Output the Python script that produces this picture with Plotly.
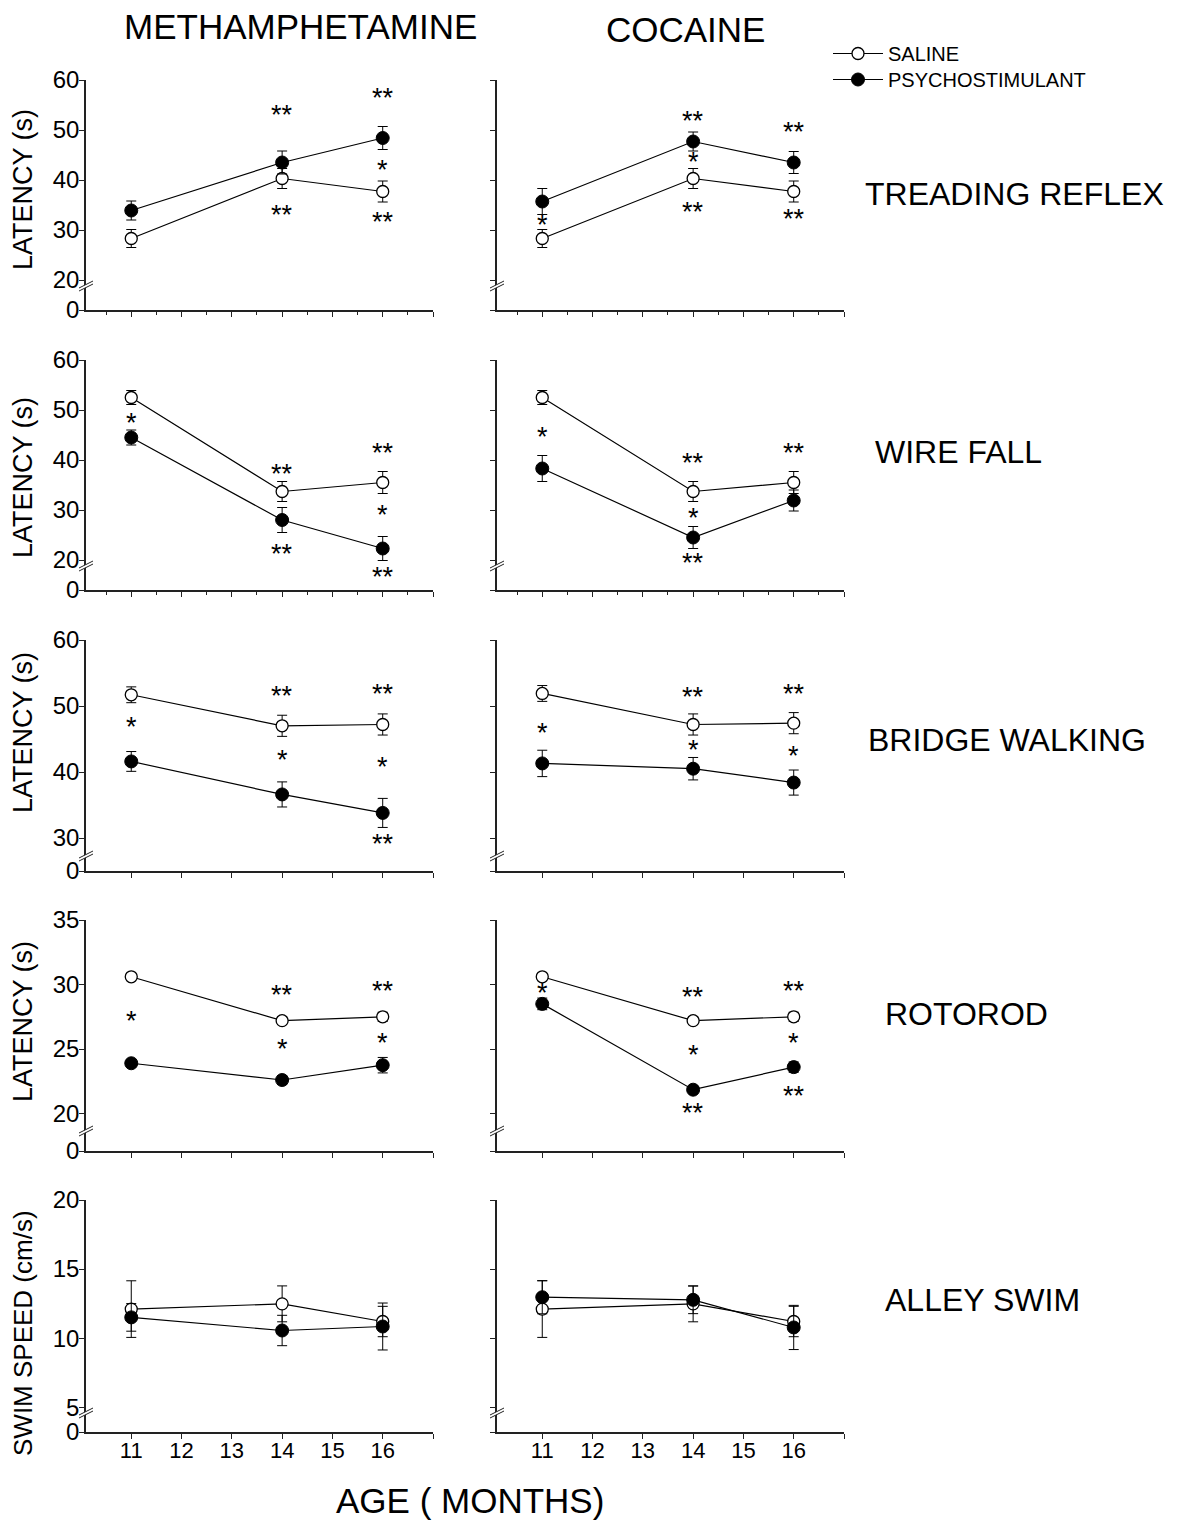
import plotly.graph_objects as go

W, H = 1179, 1525
FONT = "Liberation Sans, Arial, sans-serif"

# ---------------- data ----------------
AGES = [11, 14, 16]
X_TICKS = [11, 12, 13, 14, 15, 16, 17]
X_TICK_TEXT = ["11", "12", "13", "14", "15", "16", ""]
X_MINOR = [10.5, 11.5, 12.5, 13.5, 14.5, 15.5, 16.5]

COLUMN_TITLES = ["METHAMPHETAMINE", "COCAINE"]
ROW_TITLES = ["TREADING REFLEX", "WIRE FALL", "BRIDGE WALKING", "ROTOROD", "ALLEY SWIM"]
Y_TITLES = ["LATENCY (s)", "LATENCY (s)", "LATENCY (s)", "LATENCY (s)", "SWIM SPEED (cm/s)"]
SERIES_NAMES = ["SALINE", "PSYCHOSTIMULANT"]

# Treading reflex
TREAD_SAL = [28.3, 40.3, 37.7]
TREAD_SAL_ERR = [1.8, 2.0, 2.1]
TREAD_METH = [33.9, 43.5, 48.4]
TREAD_METH_ERR = [1.9, 2.3, 2.3]
TREAD_COC = [35.7, 47.7, 43.5]
TREAD_COC_ERR = [2.6, 1.9, 2.2]

# Wire fall
WIRE_SAL = [52.5, 33.7, 35.5]
WIRE_SAL_ERR = [1.4, 2.0, 2.2]
WIRE_METH = [44.5, 28.0, 22.3]
WIRE_METH_ERR = [1.5, 2.5, 2.4]
WIRE_COC = [38.3, 24.5, 31.9]
WIRE_COC_ERR = [2.6, 2.2, 2.1]

# Bridge walking
BRIDGE_SAL_M = [51.7, 47.0, 47.2]
BRIDGE_SAL_C = [51.9, 47.2, 47.4]
BRIDGE_SAL_ERR = [1.2, 1.6, 1.6]
BRIDGE_METH = [41.6, 36.6, 33.8]
BRIDGE_METH_ERR = [1.5, 1.9, 2.2]
BRIDGE_COC = [41.3, 40.5, 38.4]
BRIDGE_COC_ERR = [2.0, 1.7, 1.9]

# Rotorod
ROTO_SAL = [30.6, 27.2, 27.5]
ROTO_SAL_ERR = [0.25, 0.3, 0.35]
ROTO_METH = [23.9, 22.6, 23.75]
ROTO_METH_ERR = [0.3, 0.35, 0.6]
ROTO_COC = [28.5, 21.85, 23.6]
ROTO_COC_ERR = [0.45, 0.15, 0.4]

# Alley swim
SWIM_SAL = [12.1, 12.48, 11.2]
SWIM_SAL_ERR = [2.05, 1.3, 1.1]
SWIM_METH = [11.5, 10.55, 10.84]
SWIM_METH_ERR = [1.0, 1.1, 1.7]
SWIM_COC = [12.96, 12.77, 10.77]
SWIM_COC_ERR = [1.2, 1.0, 1.6]

# Y axes: visible tick values (bottom value is shown as "0" below the axis break)
Y_RANGES = [[14, 60], [14, 60], [25, 60], [17.1, 35], [3.2, 20]]
Y_TICKS = [[20, 30, 40, 50, 60], [20, 30, 40, 50, 60], [30, 40, 50, 60],
           [20, 25, 30, 35], [5, 10, 15, 20]]

# significance markers (age, level, text)
STARS = {
    (0, 0): [(14, 53.7, "**"), (16, 57.1, "**"), (16, 42.7, "*"), (14, 33.7, "**"), (16, 32.3, "**")],
    (0, 1): [(11, 31.7, "*"), (14, 52.5, "**"), (14, 44.2, "*"), (14, 34.2, "**"), (16, 50.2, "**"), (16, 32.8, "**")],
    (1, 0): [(11, 48.0, "*"), (14, 37.7, "**"), (14, 21.9, "**"), (16, 41.9, "**"), (16, 29.7, "*"), (16, 17.3, "**")],
    (1, 1): [(11, 45.2, "*"), (14, 40.0, "**"), (14, 29.0, "*"), (14, 20.0, "**"), (16, 42.0, "**")],
    (2, 0): [(11, 47.2, "*"), (14, 51.9, "**"), (14, 42.3, "*"), (16, 52.3, "**"), (16, 41.2, "*"), (16, 29.5, "**")],
    (2, 1): [(11, 46.3, "*"), (14, 51.8, "**"), (14, 43.8, "*"), (16, 52.2, "**"), (16, 42.9, "*")],
    (3, 0): [(11, 27.4, "*"), (14, 29.4, "**"), (14, 25.2, "*"), (16, 29.7, "**"), (16, 25.7, "*")],
    (3, 1): [(11, 29.6, "*"), (14, 29.3, "**"), (14, 24.8, "*"), (14, 20.25, "**"), (16, 29.75, "**"), (16, 25.7, "*"), (16, 21.6, "**")],
    (4, 0): [],
    (4, 1): [],
}

PANELS = {
    (0, 0): (TREAD_SAL, TREAD_SAL_ERR, TREAD_METH, TREAD_METH_ERR),
    (0, 1): (TREAD_SAL, TREAD_SAL_ERR, TREAD_COC, TREAD_COC_ERR),
    (1, 0): (WIRE_SAL, WIRE_SAL_ERR, WIRE_METH, WIRE_METH_ERR),
    (1, 1): (WIRE_SAL, WIRE_SAL_ERR, WIRE_COC, WIRE_COC_ERR),
    (2, 0): (BRIDGE_SAL_M, BRIDGE_SAL_ERR, BRIDGE_METH, BRIDGE_METH_ERR),
    (2, 1): (BRIDGE_SAL_C, BRIDGE_SAL_ERR, BRIDGE_COC, BRIDGE_COC_ERR),
    (3, 0): (ROTO_SAL, ROTO_SAL_ERR, ROTO_METH, ROTO_METH_ERR),
    (3, 1): (ROTO_SAL, ROTO_SAL_ERR, ROTO_COC, ROTO_COC_ERR),
    (4, 0): (SWIM_SAL, SWIM_SAL_ERR, SWIM_METH, SWIM_METH_ERR),
    (4, 1): (SWIM_SAL, SWIM_SAL_ERR, SWIM_COC, SWIM_COC_ERR),
}

# ---------------- layout geometry (pixels) ----------------
COL_PX = [(86, 433), (497, 844)]
ROW_PX = [(80, 310), (360, 590), (640, 871), (920, 1151), (1200, 1432)]
BREAK_PX = [286, 566, 856, 1131, 1413]
ROW_TITLE_POS = [(1014, 194), (958, 452), (1007, 740), (966, 1014), (982, 1300)]
Y_TITLE_Y = [190, 478, 733, 1022, 1333]

AXC = "#222222"


def px(x):
    return x / W


def py(y):
    return 1 - y / H


fig = go.Figure()
layout = dict(
    template="none",
    width=W, height=H, autosize=False,
    margin=dict(l=0, r=0, t=0, b=0, pad=0, autoexpand=False),
    paper_bgcolor="white", plot_bgcolor="white",
    font=dict(family=FONT, color="black"),
    showlegend=True,
)
annotations = []
shapes = []

for r in range(5):
    for c in range(2):
        i = r * 2 + c + 1
        sal, sal_err, psy, psy_err = PANELS[(r, c)]
        xa, ya = f"x{i}", f"y{i}"
        err_style = dict(type="data", visible=True, thickness=1, width=5, color="black")
        fig.add_trace(go.Scatter(
            x=AGES, y=sal, mode="lines+markers", name=SERIES_NAMES[0],
            showlegend=(i == 1), legend="legend",
            line=dict(color="black", width=1.2),
            marker=dict(symbol="circle", size=12, color="white", line=dict(color="black", width=1.3)),
            error_y=dict(array=sal_err, **err_style),
            xaxis=xa, yaxis=ya,
        ))
        fig.add_trace(go.Scatter(
            x=AGES, y=psy, mode="lines+markers", name=SERIES_NAMES[1],
            showlegend=(i == 1), legend="legend2",
            line=dict(color="black", width=1.2),
            marker=dict(symbol="circle", size=13, color="black", line=dict(color="black", width=1)),
            error_y=dict(array=psy_err, **err_style),
            xaxis=xa, yaxis=ya,
        ))

        x0, x1 = COL_PX[c]
        y0, y1 = ROW_PX[r]
        xaxis = dict(
            domain=[px(x0), px(x1)], range=[10.1, 17], anchor=ya, automargin=False,
            showline=True, linecolor=AXC, linewidth=1.5,
            ticks="outside", ticklen=5, tickwidth=1.2, tickcolor=AXC,
            tickmode="array", tickvals=X_TICKS, ticktext=X_TICK_TEXT,
            showticklabels=(r == 4), tickfont=dict(size=22, family=FONT, color="black"),
            ticklabelstandoff=-7,
            showgrid=False, zeroline=False, fixedrange=True,
        )
        if r < 2:
            xaxis["minor"] = dict(tickmode="array", tickvals=X_MINOR, ticks="outside",
                                  ticklen=3, tickwidth=1, tickcolor=AXC, showgrid=False)
        yr = Y_RANGES[r]
        ytv = [yr[0]] + Y_TICKS[r]
        ytt = ["0"] + [str(v) for v in Y_TICKS[r]]
        yaxis = dict(
            domain=[py(y1), py(y0)], range=yr, anchor=xa, automargin=False,
            showline=True, linecolor=AXC, linewidth=1.5,
            ticks="outside", ticklen=5, tickwidth=1.2, tickcolor=AXC,
            tickmode="array", tickvals=ytv, ticktext=ytt,
            showticklabels=(c == 0), tickfont=dict(size=24, family=FONT, color="black"),
            ticklabelstandoff=-5,
            showgrid=False, zeroline=False, fixedrange=True,
        )
        layout[f"xaxis{i}"] = xaxis
        layout[f"yaxis{i}"] = yaxis

        for (sx, sy, st) in STARS[(r, c)]:
            annotations.append(dict(
                x=sx, y=sy, xref=xa, yref=ya, text=st, showarrow=False,
                font=dict(size=27, family=FONT, color="black"),
                xanchor="center", yanchor="middle", yshift=-3,
            ))

        # axis break marks
        bx, by = x0, BREAK_PX[r]
        shapes.append(dict(
            type="path", xref="paper", yref="paper",
            path=(f"M{px(bx-7)},{py(by+2)} L{px(bx+7)},{py(by-5)} "
                  f"L{px(bx+7)},{py(by-2)} L{px(bx-7)},{py(by+5)} Z"),
            fillcolor="white", line=dict(width=0), layer="above",
        ))
        for off in (0, 3):
            shapes.append(dict(
                type="line", xref="paper", yref="paper",
                x0=px(bx - 7), y0=py(by + 2 + off), x1=px(bx + 7), y1=py(by - 5 + off),
                line=dict(color=AXC, width=1), layer="above",
            ))

    # row titles on right
    tx, ty = ROW_TITLE_POS[r]
    annotations.append(dict(
        x=px(tx), y=py(ty), xref="paper", yref="paper", text=ROW_TITLES[r],
        showarrow=False, xanchor="center", yanchor="middle",
        font=dict(size=32, family=FONT, color="black"),
    ))
    # y-axis titles
    annotations.append(dict(
        x=px(23), y=py(Y_TITLE_Y[r]), xref="paper", yref="paper", text=Y_TITLES[r],
        showarrow=False, xanchor="center", yanchor="middle", textangle=-90,
        font=dict(size=27 if r < 4 else 26, family=FONT, color="black"),
    ))

# column titles
for c, (cx, cy) in enumerate([(300, 27), (685, 30)]):
    annotations.append(dict(
        x=px(cx), y=py(cy), xref="paper", yref="paper", text=COLUMN_TITLES[c],
        showarrow=False, xanchor="center", yanchor="middle",
        font=dict(size=35, family=FONT, color="black"),
    ))

# x-axis title
annotations.append(dict(
    x=px(470), y=py(1500), xref="paper", yref="paper", text="AGE ( MONTHS)",
    showarrow=False, xanchor="center", yanchor="middle",
    font=dict(size=35, family=FONT, color="black"),
))

layout["annotations"] = annotations
layout["shapes"] = shapes
legend_style = dict(
    xanchor="left", yanchor="top",
    font=dict(size=20, family=FONT, color="black"),
    bgcolor="rgba(0,0,0,0)", borderwidth=0, tracegroupgap=0, itemwidth=50,
)
layout["legend"] = dict(x=px(828), y=py(34), **legend_style)
layout["legend2"] = dict(x=px(828), y=py(60), **legend_style)
fig.update_layout(**layout)
fig.write_html("out.html")
